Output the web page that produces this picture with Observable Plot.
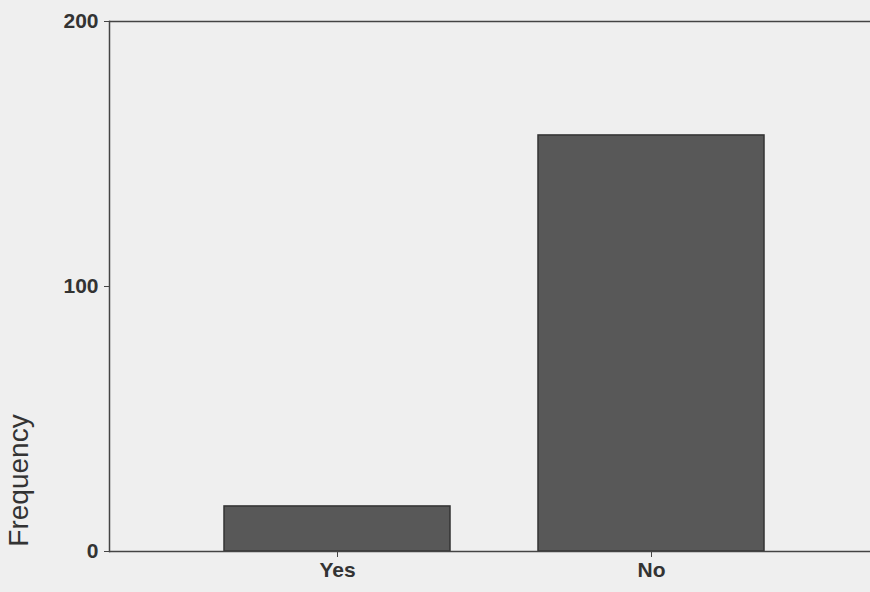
<!DOCTYPE html>
<html>
<head>
<meta charset="utf-8">
<script src="https://cdn.jsdelivr.net/npm/d3@7"></script>
<script src="https://cdn.jsdelivr.net/npm/@observablehq/plot@0.6"></script>
<style>
  html, body { margin: 0; padding: 0; background: #efefef; }
  #chart svg { display: block; background: #efefef; }
</style>
</head>
<body>
<div id="chart"></div>
<script>
const categories = ["Yes", "No"];
const frequencies = [17, 157];
const yTicks = [0, 100, 200];
const yLabel = "Frequency";

const data = categories.map((c, i) => ({answer: c, count: frequencies[i]}));

const chart = Plot.plot({
  width: 870,
  height: 592,
  marginTop: 21,
  marginBottom: 41,
  marginLeft: 109,
  marginRight: 0,
  style: {background: "#efefef", fontFamily: "'Liberation Sans', Arial, sans-serif", color: "#333"},
  x: {domain: categories, paddingInner: 0.28, paddingOuter: 0.35, align: 0.52, label: null},
  y: {domain: [0, 200], label: null},
  marks: [
    Plot.barY(data, {x: "answer", y: "count", fill: "#585858", stroke: "#333", strokeWidth: 1.5}),
    Plot.ruleY([200], {stroke: "#444", strokeWidth: 1.5}),
    Plot.frame({anchor: "left", stroke: "#444", strokeWidth: 1.5}),
    Plot.axisY({ticks: yTicks, tickSize: 5, tickPadding: 6, fontSize: 21, fontWeight: "bold", label: null, stroke: "#444"}),
    Plot.axisX({tickSize: 6, tickPadding: 5, fontSize: 21, fontWeight: "bold", label: null, stroke: "#444"}),
    Plot.ruleY([0], {stroke: "#444", strokeWidth: 1.5}),
    Plot.text([yLabel], {frameAnchor: "bottom-left", rotate: -90, dx: -82, dy: -71, fontSize: 28, fill: "#333", textAnchor: "middle"})
  ]
});
document.getElementById("chart").appendChild(chart);
</script>
</body>
</html>
